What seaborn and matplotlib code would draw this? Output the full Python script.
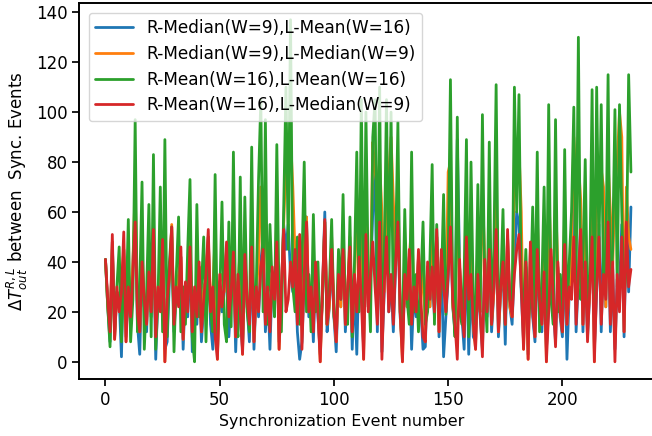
import matplotlib
matplotlib.use("Agg")
import matplotlib.pyplot as plt
import seaborn as sns
import numpy as np
import pandas as pd

sns.set_style("ticks", {"axes.edgecolor": "black", "text.color": "black",
                        "xtick.color": "black", "ytick.color": "black",
                        "axes.labelcolor": "black"})
plt.rcParams['font.family'] = ['DejaVu Sans']

labels = ["R-Median(W=9),L-Mean(W=16)",
          "R-Median(W=9),L-Median(W=9)",
          "R-Mean(W=16),L-Mean(W=16)",
          "R-Mean(W=16),L-Median(W=9)"]
colors = ["#1f77b4", "#ff7f0e", "#2ca02c", "#d62728"]

blue = [41, 22, 8, 48, 10, 28, 25, 2, 45, 10,
        30, 15, 40, 60, 15, 3, 38, 22, 12, 40,
        18, 50, 1, 28, 22, 45, 5, 8, 33, 50,
        12, 28, 25, 42, 5, 30, 18, 44, 4, 28,
        15, 38, 8, 22, 33, 50, 15, 5, 40, 3,
        32, 20, 28, 45, 10, 25, 40, 4, 32, 18,
        5, 40, 22, 8, 45, 5, 28, 18, 40, 50,
        12, 28, 5, 35, 22, 50, 8, 28, 55, 45,
        55, 35, 28, 42, 12, 1, 8, 33, 58, 18,
        28, 8, 38, 18, 3, 28, 60, 12, 22, 42,
        18, 4, 33, 22, 48, 12, 28, 45, 5, 32,
        3, 40, 30, 5, 55, 22, 32, 60, 76, 12,
        60, 4, 28, 65, 20, 33, 12, 38, 60, 18,
        5, 33, 22, 42, 5, 28, 18, 42, 22, 5,
        6, 38, 22, 35, 18, 50, 10, 42, 2, 18,
        33, 60, 22, 12, 89, 38, 18, 5, 48, 3,
        33, 10, 8, 33, 18, 5, 40, 18, 43, 12,
        28, 50, 10, 28, 38, 7, 50, 22, 15, 40,
        60, 55, 28, 8, 38, 3, 45, 18, 8, 42,
        22, 12, 34, 5, 22, 42, 22, 8, 38, 18,
        10, 45, 1, 28, 40, 80, 12, 33, 55, 12,
        40, 10, 28, 60, 5, 28, 55, 12, 50, 22,
        60, 12, 38, 5, 33, 30, 55, 10, 55, 28,
        62]

orange = [41, 22, 12, 48, 9, 28, 25, 28, 45, 8,
          40, 18, 40, 70, 20, 12, 45, 22, 15, 45,
          20, 55, 10, 28, 40, 45, 0, 25, 33, 55,
          15, 28, 35, 42, 9, 30, 25, 50, 12, 28,
          30, 38, 12, 30, 33, 50, 20, 30, 50, 1,
          32, 35, 28, 45, 30, 25, 55, 10, 32, 45,
          3, 45, 22, 15, 55, 8, 28, 40, 70, 50,
          60, 28, 30, 35, 22, 60, 5, 28, 55, 80,
          85, 90, 70, 42, 30, 20, 25, 55, 58, 20,
          28, 40, 38, 25, 0, 28, 56, 15, 22, 50,
          20, 8, 33, 22, 55, 15, 28, 50, 12, 32,
          60, 40, 70, 1, 65, 22, 32, 88, 76, 70,
          80, 60, 28, 66, 75, 90, 65, 38, 70, 20,
          0, 45, 22, 42, 55, 28, 20, 42, 22, 45,
          8, 38, 22, 55, 20, 50, 12, 42, 45, 20,
          76, 80, 22, 15, 60, 38, 20, 25, 60, 25,
          55, 15, 5, 50, 20, 70, 40, 20, 60, 15,
          28, 70, 12, 28, 45, 15, 50, 22, 18, 82,
          82, 85, 60, 5, 38, 1, 45, 45, 10, 60,
          22, 15, 50, 0, 70, 42, 22, 65, 38, 20,
          12, 60, 15, 28, 45, 90, 70, 80, 65, 15,
          60, 15, 28, 75, 0, 65, 77, 77, 70, 22,
          80, 60, 38, 70, 80, 100, 90, 12, 70, 50,
          45]

green = [41, 22, 6, 45, 12, 30, 46, 8, 35, 20,
         57, 8, 25, 97, 12, 30, 72, 5, 28, 63,
         10, 83, 5, 25, 70, 12, 89, 10, 40, 54,
         4, 35, 58, 12, 30, 15, 45, 73, 10, 0,
         63, 18, 30, 50, 8, 40, 20, 12, 75, 10,
         25, 64, 15, 8, 56, 14, 84, 20, 10, 74,
         6, 66, 20, 12, 86, 15, 30, 73, 105, 20,
         97, 15, 55, 30, 18, 87, 25, 12, 60, 110,
         45, 137, 30, 20, 50, 15, 40, 80, 20, 35,
         12, 59, 20, 40, 10, 25, 56, 15, 30, 57,
         18, 12, 45, 25, 67, 20, 15, 58, 10, 40,
         84, 20, 105, 15, 100, 35, 12, 90, 105, 25,
         110, 15, 40, 105, 30, 100, 20, 45, 96, 20,
         12, 61, 25, 15, 84, 20, 35, 12, 30, 56,
         15, 20, 40, 79, 15, 55, 20, 30, 67, 19,
         40, 113, 25, 10, 98, 20, 15, 35, 89, 10,
         80, 25, 15, 71, 20, 99, 30, 12, 88, 15,
         45, 111, 20, 30, 61, 15, 40, 25, 20, 110,
         60, 107, 30, 20, 45, 15, 25, 62, 20, 84,
         12, 30, 70, 10, 103, 25, 15, 97, 20, 35,
         12, 85, 20, 40, 60, 102, 30, 130, 25, 40,
         81, 20, 35, 109, 15, 110, 45, 103, 30, 40,
         115, 20, 45, 101, 30, 103, 60, 25, 40, 115,
         76]

red = [41, 25, 12, 51, 9, 30, 20, 28, 52, 8,
       30, 18, 35, 56, 20, 12, 40, 25, 15, 36,
       20, 53, 10, 30, 20, 49, 0, 25, 35, 54,
       15, 30, 22, 46, 9, 32, 20, 46, 12, 30,
       18, 40, 12, 25, 35, 53, 20, 30, 10, 1,
       35, 22, 30, 48, 18, 28, 44, 10, 35, 20,
       3, 43, 25, 15, 46, 8, 30, 20, 38, 45,
       15, 30, 12, 38, 25, 48, 5, 30, 53, 20,
       25, 40, 30, 45, 15, 51, 5, 35, 56, 20,
       30, 12, 40, 20, 0, 30, 57, 15, 25, 45,
       20, 8, 35, 25, 45, 15, 30, 46, 12, 35,
       20, 42, 25, 1, 51, 20, 35, 48, 30, 15,
       56, 1, 30, 50, 20, 35, 15, 40, 56, 20,
       0, 35, 25, 45, 15, 30, 20, 45, 25, 10,
       8, 40, 25, 38, 20, 53, 12, 45, 30, 20,
       35, 54, 25, 15, 1, 41, 20, 10, 50, 25,
       35, 15, 5, 35, 20, 2, 41, 20, 45, 15,
       30, 53, 12, 30, 40, 15, 53, 25, 18, 35,
       45, 51, 30, 5, 40, 1, 48, 20, 10, 45,
       25, 15, 36, 0, 20, 45, 25, 6, 40, 20,
       12, 47, 15, 30, 25, 50, 15, 35, 53, 15,
       40, 8, 30, 50, 0, 30, 50, 15, 35, 25,
       56, 15, 40, 0, 35, 20, 50, 12, 56, 30,
       37]

series = [blue, orange, green, red]
events = np.arange(len(red))

fig = plt.figure(figsize=(6.52, 4.36), dpi=100)
ax = fig.add_axes([79.2 / 652, (436 - 379) / 436, 578 / 652, (379 - 3.3) / 436])

for vals, lab, col in zip(series, labels, colors):
    df = pd.DataFrame({"event": events, "dt": vals})
    sns.lineplot(data=df, x="event", y="dt", ax=ax, color=col, label=lab,
                 linewidth=2.0)

ax.set_xlim(-11.5, 241.5)
ax.set_ylim(-6.9, 143.6)
ax.set_xticks([0, 50, 100, 150, 200])
ax.set_yticks([0, 20, 40, 60, 80, 100, 120, 140])
ax.tick_params(labelsize=12, width=1.25, length=5)
ax.set_xlabel("Synchronization Event number", fontsize=11.4)
ax.xaxis.label.set_x((342 - 79.2) / 578)
ax.set_ylabel(r"$\Delta T^{R,L}_{out}$ between  Sync. Events", fontsize=12)
ax.legend(loc="upper left", fontsize=12.2, handlelength=2.2,
          borderaxespad=0.55, labelspacing=0.45)
for s in ax.spines.values():
    s.set_visible(True)
    s.set_linewidth(1.4)

fig.savefig("out.png", dpi=100)
